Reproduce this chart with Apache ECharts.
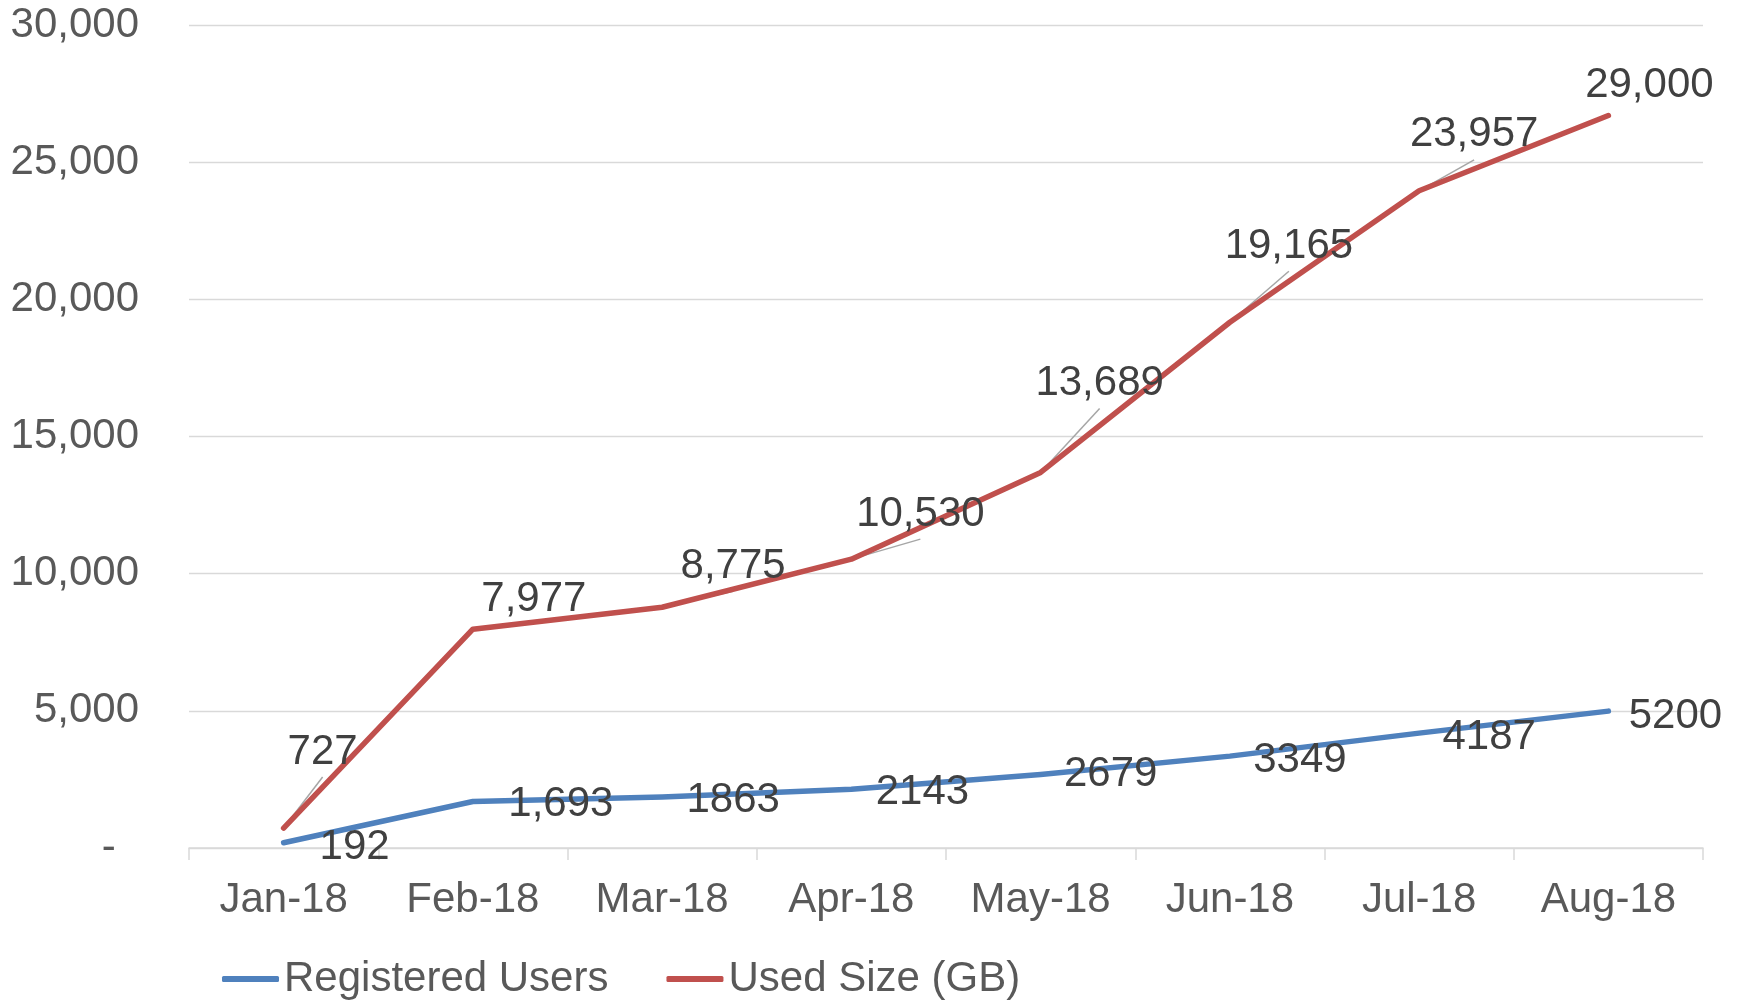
<!DOCTYPE html>
<html><head><meta charset="utf-8">
<script src="https://cdn.jsdelivr.net/npm/echarts@6/dist/echarts.min.js"></script>
<style>html,body{margin:0;padding:0;background:#fff}#c{width:1742px;height:1000px}</style>
</head><body><div id="c"></div>
<script>
// ---- data ----
const categories = ['Jan-18','Feb-18','Mar-18','Apr-18','May-18','Jun-18','Jul-18','Aug-18'];
const registeredUsers = [192, 1693, 1863, 2143, 2679, 3349, 4187, 4990];
const usedSizeGB = [727, 7977, 8775, 10530, 13689, 19165, 23957, 26700];
const registeredLabels = ['192','1,693','1863','2143','2679','3349','4187','5200'];
const usedLabels = ['727','7,977','8,775','10,530','13,689','19,165','23,957','29,000'];
const yTickMin = 0, yTickMax = 30000, yTickStep = 5000;

// ---- label placement (style config, pixel offsets from each point) ----
const usedLabelShift = [[39,-76],[61,-30],[71,-41],[69,-45],[59,-89],[59,-76],[55,-56],[41,-30]];
const usedLeader = [true,false,true,true,true,true,true,false];
const leaderGap = 25;
const userLabelShift = [[71,5],[88,3],[71,4],[71,3],[70,0],[70,4],[70,4],[67,5]];

const FONT = '"Liberation Sans", Arial, sans-serif';
const chart = echarts.init(document.getElementById('c'), null, {renderer:'canvas'});
chart.setOption({
  animation: false,
  backgroundColor: '#ffffff',
  grid: {left: 189, right: 39, top: 25, bottom: 152, containLabel: false},
  legend: {
    data: ['Registered Users','Used Size (GB)'],
    left: 222, top: 958, padding: 0,
    icon: 'roundRect', itemWidth: 57, itemHeight: 6, itemGap: 58,
    textStyle: {fontFamily: FONT, fontSize: 42, color: '#595959', padding: [0,0,0,0]}
  },
  xAxis: {
    type: 'category', data: categories, boundaryGap: true,
    axisLine: {show: true, lineStyle: {color: '#D9D9D9', width: 1.5}},
    axisTick: {show: true, interval: 0, length: 12, lineStyle: {color: '#D9D9D9', width: 1.5}},
    axisLabel: {fontFamily: FONT, fontSize: 42, color: '#595959', margin: 31, interval: 0},
    splitLine: {show: false}
  },
  yAxis: {
    type: 'value', min: yTickMin, max: yTickMax, interval: yTickStep,
    axisLine: {show: false}, axisTick: {show: false},
    axisLabel: {fontFamily: FONT, fontSize: 42, color: '#595959', margin: 50, padding: [4,0,0,0],
      formatter: v => v === 0 ? '-  ' : v.toLocaleString('en-US')},
    splitLine: {show: true, lineStyle: {color: '#D9D9D9', width: 1.3}}
  },
  series: [
    {
      name: 'Registered Users', type: 'line',
      data: registeredUsers,
      showSymbol: true, symbol: 'circle', symbolSize: 2,
      itemStyle: {color: '#4F81BD'},
      lineStyle: {color: '#4F81BD', width: 5.5, cap: 'round', join: 'round'},
      label: {show: true, position: 'inside', fontFamily: FONT, fontSize: 42, color: '#404040',
        formatter: p => registeredLabels[p.dataIndex]},
      labelLayout: p => ({dx: userLabelShift[p.dataIndex][0], dy: userLabelShift[p.dataIndex][1]}),
      z: 2
    },
    {
      name: 'leaders', type: 'custom',
      data: usedSizeGB.map((v, i) => [i, v]),
      silent: true, z: 2.5,
      renderItem: (params, api) => {
        const i = params.dataIndex;
        if (!usedLeader[i]) return null;
        const p = api.coord([api.value(0), api.value(1)]);
        const s = usedLabelShift[i];
        return {
          type: 'line',
          shape: {x1: p[0], y1: p[1], x2: p[0] + s[0], y2: p[1] + s[1] + leaderGap},
          style: {stroke: '#A6A6A6', lineWidth: 1.5}
        };
      }
    },
    {
      name: 'Used Size (GB)', type: 'line',
      data: usedSizeGB,
      showSymbol: true, symbol: 'circle', symbolSize: 2,
      itemStyle: {color: '#C0504D'},
      lineStyle: {color: '#C0504D', width: 5.5, cap: 'round', join: 'round'},
      label: {show: true, position: 'inside', fontFamily: FONT, fontSize: 42, color: '#404040',
        formatter: p => usedLabels[p.dataIndex]},
      labelLayout: p => ({dx: usedLabelShift[p.dataIndex][0], dy: usedLabelShift[p.dataIndex][1]}),
      z: 3
    }
  ]
});
</script>
</body></html>
